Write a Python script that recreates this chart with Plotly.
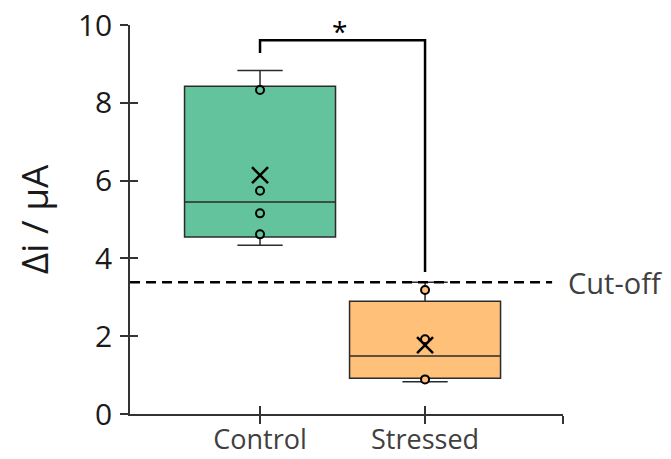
import plotly.graph_objects as go

# ---- data ----
groups = ["Control", "Stressed"]
group_pos = [0, 1]
lower_whisker = [4.34, 0.83]
q1 = [4.55, 0.92]
median = [5.45, 1.49]
q3 = [8.43, 2.90]
upper_whisker = [8.83, 3.39]
means = [6.14, 1.77]
control_points = [8.33, 5.74, 5.16, 4.62]
stressed_points = [3.19, 1.92, 0.89]
cutoff = 3.39
bracket_x = [0, 0, 1, 1]
bracket_y = [9.28, 9.61, 9.61, 3.65]
y_ticks = [0, 2, 4, 6, 8, 10]

fills = ["#62C39D", "#FFC07A"]
edge = "#2b2b2b"
x_range = [-0.788, 1.836]
y_range = [0, 10.003]

fig = go.Figure()

for i in range(2):
    fig.add_trace(go.Box(
        x=[group_pos[i]], q1=[q1[i]], median=[median[i]], q3=[q3[i]],
        lowerfence=[lower_whisker[i]], upperfence=[upper_whisker[i]],
        width=0.915, whiskerwidth=0.3, fillcolor=fills[i],
        line=dict(color=edge, width=1.5), boxpoints=False,
        showlegend=False, hoverinfo="skip"))

pts = [control_points, stressed_points]
for i in range(2):
    fig.add_trace(go.Scatter(
        x=[group_pos[i]] * len(pts[i]), y=pts[i], mode="markers",
        marker=dict(symbol="circle", size=8, color=fills[i],
                    line=dict(color="black", width=2)),
        showlegend=False, hoverinfo="skip"))

fig.add_trace(go.Scatter(
    x=group_pos, y=means, mode="markers",
    marker=dict(symbol="x-thin", size=16, color="black",
                line=dict(color="black", width=2.5)),
    showlegend=False, hoverinfo="skip"))

# significance bracket
fig.add_trace(go.Scatter(
    x=bracket_x, y=bracket_y, mode="lines",
    line=dict(color="black", width=2.5), showlegend=False,
    hoverinfo="skip", cliponaxis=False))

# cut-off line
fig.add_shape(type="line", x0=x_range[0], x1=1.77, y0=cutoff, y1=cutoff,
              xref="x", yref="y", line=dict(color="black", width=2.5, dash="10px,6px"))
fig.add_annotation(x=1.008, xref="paper", y=cutoff, yref="y", text="Cut-off",
                   showarrow=False, xanchor="left", yanchor="middle",
                   font=dict(size=29, color="#404040"))
fig.add_annotation(x=0.48, y=9.85, xref="x", yref="y", text="*", showarrow=False,
                   font=dict(size=28, color="black"))
fig.add_annotation(x=-0.222, xref="paper", y=0.5, yref="paper", text="Δi / μA",
                   textangle=-90, showarrow=False, xanchor="center", yanchor="middle",
                   font=dict(size=37, color="#1a1a1a"))

# invisible trace for inside-tick overlay axes
fig.add_trace(go.Scatter(x=[0], y=[0], xaxis="x2", yaxis="y2", mode="markers",
                         marker=dict(opacity=0), showlegend=False, hoverinfo="skip"))

xt = group_pos + [x_range[1] - 0.001]
fig.update_layout(
    width=663, height=451, margin=dict(l=122, r=108, t=17, b=45),
    paper_bgcolor="white", plot_bgcolor="white",
    font=dict(family="Open Sans, sans-serif"),
    xaxis=dict(range=x_range, tickvals=xt, ticktext=groups + [""],
               ticks="outside", ticklen=8, tickwidth=1.5, tickcolor="#333",
               showline=True, linecolor="#333", linewidth=1.5,
               showgrid=False, zeroline=False, automargin=False,
               ticklabelstandoff=-7,
               tickfont=dict(size=27, color="#404040")),
    yaxis=dict(range=y_range, tickvals=y_ticks, ticks="outside", ticklen=8,
               tickwidth=1.5, tickcolor="#333", showline=True, linecolor="#333",
               linewidth=1.5, showgrid=False, zeroline=False, automargin=False,
               ticklabelstandoff=2, ticklabeloverflow="allow",
               tickfont=dict(size=30, color="#1a1a1a")),
    xaxis2=dict(range=x_range, overlaying="x", tickvals=xt, ticks="inside",
                ticklen=8, tickwidth=1.5, tickcolor="#333", showticklabels=False,
                showline=False, showgrid=False, zeroline=False, automargin=False),
    yaxis2=dict(range=y_range, overlaying="y", tickvals=y_ticks, ticks="inside",
                ticklen=8, tickwidth=1.5, tickcolor="#333", showticklabels=False,
                showline=False, showgrid=False, zeroline=False, automargin=False),
)

fig.write_html("out.html")
